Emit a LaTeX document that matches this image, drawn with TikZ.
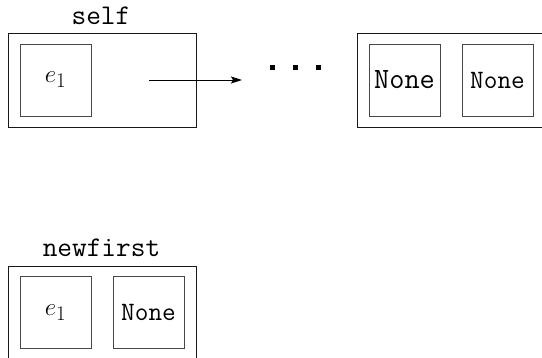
\documentclass[tikz,border=0pt]{standalone}
\usetikzlibrary{arrows.meta}
\begin{document}
\begin{tikzpicture}[x=1pt,y=-1pt,
  outerbox/.style={draw=black!90, line width=0.85pt, inner sep=0pt},
  cell/.style={draw=black!72, line width=0.85pt, minimum width=71pt, minimum height=72pt, inner sep=0pt},
  lbl/.style={font=\fontsize{28.5}{30}\selectfont\ttfamily, anchor=base, inner sep=0pt},
  bignone/.style={font=\fontsize{29.5}{30}\selectfont\ttfamily},
  smallnone/.style={font=\fontsize{26.5}{28}\selectfont\ttfamily},
  elem/.style={font=\fontsize{29}{30}\selectfont},
  ptr/.style={line width=0.9pt, -{Stealth[length=11pt,width=7pt,inset=2pt]}},
  dot/.style={fill=black}]
\path[use as bounding box] (0,0) rectangle (542,358);
\clip (0,0) rectangle (542,358);

% list node referenced by self
\node[outerbox, minimum width=188pt, minimum height=94pt] (selfbox) at (102,80) {};
\node[lbl] (selflbl) at (101,25) {self};
\node[cell, elem] (selfe) at (55.5,80) {$e_1$};

% link to the rest of the chain
\coordinate (ptrstart) at (149,80);
\coordinate (ptrend) at (242,80);
\draw[ptr] (ptrstart) -- (ptrend);
\fill[dot] (269.5,65.5) rectangle ++(5,5);
\fill[dot] (292.5,65.5) rectangle ++(5,5);
\fill[dot] (315.5,65.5) rectangle ++(5,5);

% last node of the chain
\node[outerbox, minimum width=210pt, minimum height=94pt] (lastbox) at (462,80) {};
\node[cell, bignone] (lastelem) at (404.5,80) {None};
\node[cell, smallnone] (lastnext) at (497.5,80) {None};

% freshly created node
\node[outerbox, minimum width=188pt, minimum height=100pt] (newbox) at (102,316) {};
\node[lbl] (newlbl) at (101.5,257) {newfirst};
\node[cell, elem] (newe) at (55.5,312.5) {$e_1$};
\node[cell, smallnone] (newnext) at (148.5,312.5) {None};
\end{tikzpicture}
\end{document}
